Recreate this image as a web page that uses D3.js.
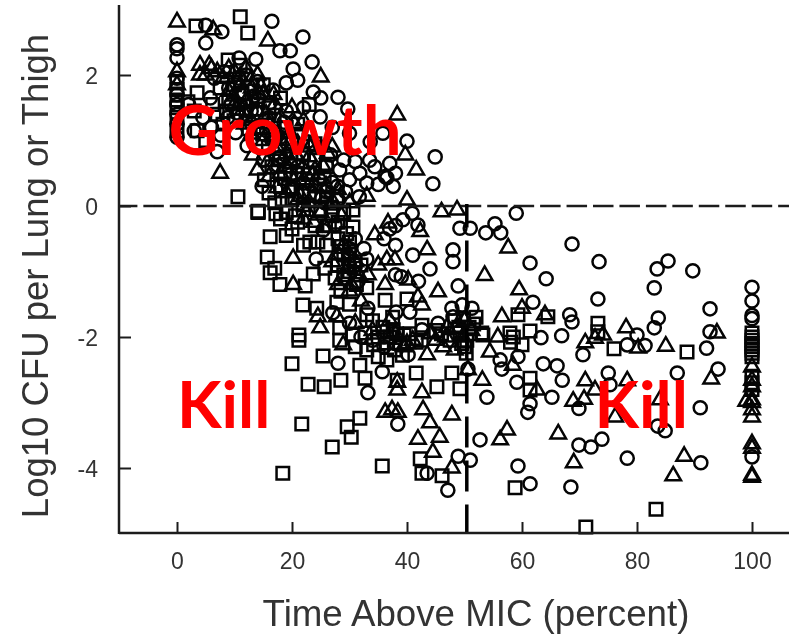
<!DOCTYPE html>
<html><head><meta charset="utf-8">
<script src="https://cdn.jsdelivr.net/npm/d3@7"></script>
<style>html,body{margin:0;padding:0;background:#fff}svg{display:block}</style>
</head><body><svg id="c" width="789" height="635"></svg>
<script>
const xTicks=[0,20,40,60,80,100];
const yTicks=[2,0,-2,-4];
const xTitle="Time Above MIC (percent)";
const yTitle="Log10 CFU per Lung or Thigh";
const micLine=50.4;
const notes=[["Growth",-1.5,.78,69],["Kill",0,-3.39,65],["Kill",72.6,-3.39,65]];
const circles=[[16.5,2.82],[21.9,2.58],[5,2.49],[5,2.76],[7.8,2.66],[0,2.46],[0,2.26],[0,2.4],[17.9,2.37],[19.7,2.37],[23.5,2.2],[20.2,2.09],[10.8,2.26],[13.7,2.24],[28,1.66],[29.7,1.48],[40,.99],[44.9,.75],[44.5,.34],[35.8,1.11],
[0,1.95],[0,1.7],[0,1.55],[0,1.4],[0,1.25],[0,1.05],[7,.83],[23.7,1.74],[21,1.92],[16.7,1.77],[19,1.88],[24.9,1.36],[30,1.11],[33.6,.98],[37,.65],[36.5,.43],[28.3,.55],[30,.4],[31.8,.5],[33,.35],[34.4,.6],[36.2,.45],[37.6,.3],[29,.7],[31,.68],[33.5,.7],[35,.33],[27,.36],[26,.62],[38,.5],[25,.9],[27,1.2],[23,1.1],[21,.6],[18,.75],[15,.7],[13,1.25],[11,1.55],[9,1.8],[6,1.2],[3,1.15],[2,1.55],[16,1.35],[19,1.45],[22,1.5],[25,1.65],[14,1.9],[12,2.0],[18,1.05],[20,.25],[24,.15],[28,.1],[22,.35],
[6.5,1.95],[8.2,2.05],[9.4,1.55],[10.7,1.95],[11.6,1.7],[12.9,1.45],[14.2,1.62],[15.6,1.15],[16.4,1.02],[17.5,.62],[18.6,1.28],[19.8,.48],[20.6,.72],[21.8,.22],[22.7,.98],[24.6,.42],[25.7,.05],[26.7,.78],[27.9,.3],[29.3,.22],[31.7,.14],[4.5,1.35],[5.8,1.65],[7.6,1.08],[10.2,1.12],[12.2,.92],[14.8,.3],[30,-.9],[29,-1.1],[31.5,-1.15],[32.5,-.65],[8.8,1.35],[10.4,1.42],[13.4,1.68],[16.2,1.58],[19.2,.95],[23.4,.32],[25.9,.22],
[59,-.11],[55.3,-.27],[53.7,-.41],[56.3,-.41],[68.7,-.58],[61.4,-.87],[64.2,-1.11],[73.4,-.85],[83.5,-.96],[85.4,-.84],[89.7,-.99],[83,-1.25],[100,-1.24],[100,-1.45],[100,-1.67],[100,-1.72],[73.2,-1.42],[61.9,-1.47],[92.7,-1.57],[68.3,-1.66],[68.7,-1.77],[83.7,-1.71],[83,-1.86],[92.7,-1.92],[80,-1.97],[92.1,-2.17],[78.3,-2.12],[81.4,-2.13],[66.9,-1.98],[63.3,-2.01],[70.6,-2.27],[59.3,-2.3],[63.7,-2.41],[66.1,-2.44],[67,-2.66],[59.1,-2.69],[75,-2.55],[75.3,-2.73],[87,-2.55],[94.1,-2.49],[56.2,-2.35],[56.5,-2.49],[65.2,-2.92],[53.9,-2.92],[61.4,-3.02],[61,-3.15],[69.9,-3.09],[91,-3.08],[83.6,-3.36],[84.9,-3.43],[73.9,-3.56],[69.9,-3.65],[72,-3.68],[52.7,-3.57],[78.3,-3.85],[91.1,-3.92],[59.3,-3.97],[61.4,-4.24],[68.5,-4.29],[100,-3.83],
[49.2,-.34],[51,-.34],[48,-.67],[48,-.85],[48.9,-1.22],[41,-.75],[44,-.96],[39,-1.08],[40.9,-.11],[39.3,-.21],[41.9,-.29],[24.2,-.81],[33,-.81],[38.1,-1.62],[40.5,-1.62],[45.4,-1.79],[47.8,-1.56],[49.6,-1.51],[51.3,-1.56],[48,-1.69],[42.6,-1.89],[40.2,-2.27],[28,-2.4],[35.7,-2.53],[33.2,-2.85],[38.4,-3.33],[50.6,-2.49],[48.9,-3.82],[51,-3.88],[47.1,-4.34],[43.5,-4.08],[25.4,-.37],[27.5,-.29],[27.1,-1.63],[30,-1.79],[33.2,-1.56],[37,-.35],[38,-.3],[36,-.5],[38,-.6],[42,-1.15],[38,-1.05],[32,-2],[34,-2.05],[36,-2.15],[38,-2.1],[30,-.65],[31,-.5]];
const triangles=[[0,2.81],[15.8,2.52],[6.3,2.69],[25,1.97],[38.3,1.39],[39.7,.78],[41.6,.55],[7.5,.5],[4,2.15],[5.6,2.15],[40,.09],[46,-.09],[48.7,-.06],[4,2],[5,2],[6,2.1],[8,1.95],[10,2.05],[12,2.1],[14,2],[9,1.75],[11,1.85],[13,1.8],[15,1.7],[17,1.55],[10,1.55],[12,1.6],[14,1.45],[16,1.25],[18,1.35],[20,1.5],[22,1.3],[13,1.1],[15,1],[17,.85],[19,.8],[21,.95],[23,.75],[14,.55],[16,.45],[18,.5],[20,.65],[22,.4],[24,.55],[26,.3],[28,.25],[19,.2],[21,.1],[23,.05],[25,.15],[0,2.05],[0,1.85],[27,.9],[30,.05],[33,.15],[25,-.1],[22,-.2],
[7,2.05],[9,2.1],[11,1.98],[12.8,1.92],[14.6,1.82],[9.8,1.68],[11.4,1.46],[12.9,1.3],[14.2,1.72],[15.5,1.4],[16.8,1.7],[18.2,1.0],[19.6,1.12],[20.7,.78],[21.9,.58],[23.1,.9],[24.2,.28],[25.3,.62],[26.2,.8],[27.2,.05],[28.6,-.15],[13.2,.78],[15.8,.68],[17.4,.28],[18.9,.58],[20.3,.38],[21.5,.15],[22.6,-.08],[23.8,-.25],[25.8,-.32],[28.1,-.75],[29.6,-.95],[30.3,-1.2],[31.8,-1.08],[33.2,-1.05],[38,-1.95],[39.4,-2.15],[41,-2.05],[44,-1.95],[46.8,-2],[48.6,-1.85],[49.7,-2],[51.2,-1.9],[48.3,-2.2],[11.8,1.25],[14.4,1.18],[16.9,1.02],[20.4,1.26],[23.6,.48],
[42.3,-.39],[34.4,-.44],[36.7,-.26],[43.5,-.67],[20.2,-.8],[35,-.9],[36.5,-.82],[37.9,-.82],[40.2,-1.13],[20.2,-1.2],[36.2,-1.2],[45.4,-1.31],[53.5,-1.06],[41.9,-1.39],[42.6,-1.51],[24.5,-1.69],[24.9,-1.86],[27.8,-1.69],[31,-1.79],[56.5,-1.69],[28.9,-2.12],[43.5,-2.27],[46.3,-2.15],[55.8,-2],[54.4,-2.23],[53.1,-2.66],[42.6,-2.85],[38.3,-2.81],[38.3,-2.69],[36.2,-3.15],[37.4,-3.11],[38.4,-3.15],[42.8,-3.11],[47.8,-3.19],[44,-3.31],[45.7,-3.53],[41.9,-3.56],[44.5,-3.76],[47.8,-4],[50.6,-2.5],[57.6,-.64],[59.5,-1.28],[64,-1.66],[60,-1.56],[58.4,-2.43],[62.6,-2.81],[71,-2.67],[71,-2.09],[72.7,-2.02],[74.1,-1.97],[78.1,-1.86],[80.2,-2.17],[85,-2.14],[93.9,-1.94],[92.9,-2.64],[78.3,-2.67],[68.9,-2.98],[70.8,-2.95],[72.7,-2.81],[76.2,-3.22],[84,-2.96],[66.3,-3.48],[57.4,-3.42],[56.2,-3.57],[69,-3.92],[88.2,-3.82],[86.3,-4.12],[100,-2.46],[100,-2.66],[100,-2.76],[100,-2.96],[100,-3],[100,-3.11],[100,-3.22],[100,-3.63],[100,-3.7],[100,-4.11],[100,-4.14],[99,-2.98],[29,-.6],[31,-.85],[28,-1.2],[32,-1.45],[34,-1.9],[37,-1.75],[40,-2.1],[47,-1.85],[50,-1.75],[45,-2.05],[30,-1.3],[27,-.85]];
const squares=[[3.3,2.75],[11,2.89],[12.3,2.64],[10.6,.14],[14.1,-.08],[14.1,-.09],[14.1,-.1],[3.5,1.73],[1.9,1.59],[8.9,2.23],[0,1.9],[0,1.78],[0,1.62],[0,1.5],[0,1.35],[0,1.15],[3,1.45],[3.5,1.15],[5,1.0],[7,1.4],[8,1.25],[9,1.6],[10,1.85],[11,2.15],[12,1.4],[13,1.6],[14,1.2],[15,1.85],[16,1.5],[17,1.1],[18,1.65],[19,1.2],[20,.95],[21,1.25],[22,.8],[23,1.55],[24,.95],[26,.6],[16,.2],[17,.05],[18,.3],[19,-.1],[20,.1],[21,-.25],[22,-.05],[23,.2],[24,-.3],[25,-.05],[26,.1],[27,-.15],[28,-.25],[29,-.1],[18,-.2],[19,-.45],[20,-.35],[22,-.6],[26,-.6],[28,-.5],[30,-.7],[28,-.9],[30,-1],[31,-.85],[29,-.75],[30,-.55],[32,-.9],
[6.2,1.55],[7.5,1.8],[8.6,1.45],[9.9,1.3],[11.3,1.72],[12.5,1.18],[13.8,1.48],[14.9,1.1],[15.9,.9],[16.9,1.32],[17.8,.72],[18.7,.42],[19.7,.72],[20.9,.5],[21.9,.02],[22.8,.48],[23.9,.7],[24.9,.32],[25.6,.45],[26.8,-.02],[27.8,.15],[15.2,.4],[16.5,.6],[17.2,-.12],[18.3,.1],[19.4,.28],[20.6,-.15],[24.5,-.55],[26.5,-.3],[29.5,-.42],[28.6,-.62],[29.8,-.8],[30.8,-.95],[29,-1.05],[28.5,-1.3],[31.2,-1.2],[30,-1.5],[35.8,-1.85],[37,-2],[38.2,-1.95],[38.8,-2.1],[40.5,-1.95],[41.6,-2.08],[42.5,-2.05],[37.8,-2.2],[39.2,-2.28],[34.2,-2.12],[48.3,-1.75],[49,-1.85],[49.8,-1.72],[50.8,-1.85],[49.5,-2.1],[50.3,-2.25],[51.6,-1.8],[52,-1.7],
[30.6,-.06],[16.2,-.47],[23.1,-.55],[30.6,-.32],[15.7,-.78],[17,-.95],[16.2,-1.02],[17.9,-1.2],[22.3,-1.22],[23.7,-1.04],[25.7,-.95],[27.5,-1.1],[21.9,-1.51],[24.3,-1.56],[27.8,-1.47],[33,-1.25],[36.2,-1.44],[40,-1.42],[33,-1.66],[21.2,-1.97],[21.2,-2.05],[20,-2.41],[25.4,-2.29],[22.8,-2.72],[25.6,-2.76],[28.5,-2.66],[31.8,-2.43],[32.7,-2.63],[41.6,-2.55],[45.2,-2.76],[47.8,-2.55],[49.2,-2.79],[21.7,-3.33],[31.8,-3.24],[29.6,-3.37],[30.3,-3.53],[27,-3.68],[18.4,-4.08],[35.7,-3.97],[42.3,-3.86],[42.6,-4.08],[46.1,-4.12],[38.3,-2.66],[36.5,-2.35],[39.5,-1.97],[37.6,-1.89],[36.5,-1.92],[36.5,-2.09],[28.3,-1.86],[28.3,-2.05],[30.6,-1.97],[32.7,-1.94],[42.6,-1.82],[49.2,-1.94],[50.4,-2.05],[51,-1.95],[50,-2.15],[53,-1.94],[58.8,-4.3],[83.3,-4.63],[71.1,-4.9],[76,-2.18],[88.7,-2.23],[61.4,-2.63],[61.4,-2.81],[61.4,-1.91],[60,-2.12],[59.3,-1.66],[64.5,-1.69],[53.2,-1.97],[57.9,-1.94],[58.5,-2],[58,-2.08],[73.2,-1.79],[73.2,-1.92],[100,-1.94],[100,-2],[100,-2.05],[100,-2.1],[100,-2.15],[100,-2.2],[100,-2.25],[100,-2.3],[100,-2.6],[100,-2.7],[100,-2.8],[34,-1.75],[35,-2],[37.5,-1.7],[33,-2.2],[35,-2.3],[31,-2.15],[46,-1.95],[47.5,-2.05],[45,-1.9]];

const svg=d3.select("#c");
const x=d3.scaleLinear().domain([0,100]).range([177,752]);
const y=d3.scaleLinear().domain([2,-4]).range([75,468]);
const ink="#1c1c1c", label="#333";
const xLo=x.invert(119), xHi=x.invert(789), yLo=y.invert(533), yHi=y.invert(5);
const plot=svg.append("g").style("filter","blur(0.45px)");

const marks=[[circles,d3.symbolCircle,135],[squares,d3.symbolSquare,156],[triangles,d3.symbolTriangle,104]];
marks.forEach(([data,type,size])=>{
  plot.append("g").selectAll("path").data(data).join("path")
    .attr("transform",d=>`translate(${x(d[0])},${y(d[1])})`)
    .attr("d",d3.symbol().type(type).size(size))
    .attr("fill","none").attr("stroke","#050505").attr("stroke-width",2.5);
});
plot.append("line").attr("x1",x(xLo)).attr("x2",x(xHi)).attr("y1",y(0)).attr("y2",y(0))
  .attr("stroke",ink).attr("stroke-width",2.5).attr("stroke-dasharray","20.5 5.95").attr("stroke-dashoffset",2.1);
plot.append("line").attr("x1",x(micLine)).attr("x2",x(micLine)).attr("y1",y(0)-2).attr("y2",y(yLo))
  .attr("stroke","#000").attr("stroke-width",3.5).attr("stroke-dasharray","31 13").attr("stroke-dashoffset",7.4);

const axX=plot.append("g").attr("transform",`translate(0,${y(yLo)})`)
  .call(d3.axisBottom(x).tickValues(xTicks).tickSize(-11).tickSizeOuter(0).tickFormat(d3.format("d")));
const axY=plot.append("g").attr("transform",`translate(${x(xLo)},0)`)
  .call(d3.axisLeft(y).tickValues(yTicks).tickSize(-12).tickSizeOuter(0).tickFormat(d3.format("d")));
[axX,axY].forEach(a=>{
  a.selectAll("line").attr("stroke",ink).attr("stroke-width",2);
  a.select(".domain").remove();
  a.selectAll("text").attr("fill",label).attr("font-family","'Liberation Sans'").attr("font-size",23);
});
axX.selectAll("text").attr("y",0).attr("dy",0).attr("transform","translate(0,36)");
axY.selectAll("text").attr("x",-21).attr("dy","0.36em").text(d=>d<0?"-"+(-d):d);
plot.append("line").attr("x1",x(xLo)).attr("x2",x(xHi)).attr("y1",y(yLo)).attr("y2",y(yLo)).attr("stroke",ink).attr("stroke-width",2.5);
plot.append("line").attr("x1",x(xLo)).attr("x2",x(xLo)).attr("y1",y(yHi)).attr("y2",y(yLo)+1).attr("stroke",ink).attr("stroke-width",2.5);

plot.append("text").attr("x",476).attr("y",626).attr("text-anchor","middle")
  .attr("font-family","'Liberation Sans'").attr("font-size",36.7).attr("fill",label).text(xTitle);
plot.append("text").attr("transform","translate(48,276) rotate(-90)").attr("text-anchor","middle")
  .attr("font-family","'Liberation Sans'").attr("font-size",36.5).attr("fill",label).text(yTitle);

svg.append("g").selectAll("text").data(notes).join("text")
  .attr("x",d=>x(d[1])).attr("y",d=>y(d[2])).text(d=>d[0])
  .attr("font-family","Lato").attr("font-weight",700).attr("font-size",d=>d[3]).attr("fill","#ff0000");
</script></body></html>
